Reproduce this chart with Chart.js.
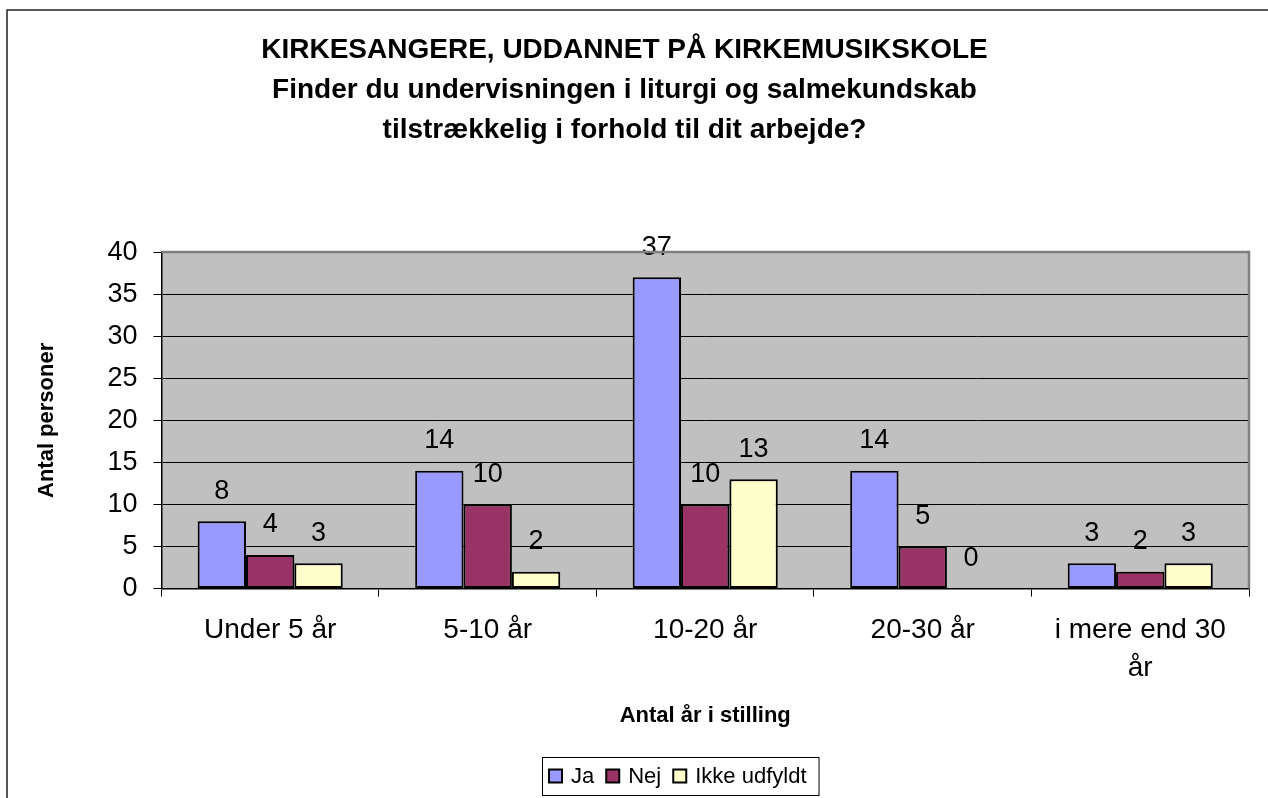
<!DOCTYPE html>
<html>
<head>
<meta charset="utf-8">
<script src="https://cdn.jsdelivr.net/npm/chart.js@4.4.1/dist/chart.umd.min.js"></script>
<style>
  html, body { margin: 0; padding: 0; background: #fff; }
  canvas { display: block; }
</style>
</head>
<body>
<canvas id="chart" width="1268" height="798"></canvas>
<script>
const titleLines = [
  'KIRKESANGERE, UDDANNET PÅ KIRKEMUSIKSKOLE',
  'Finder du undervisningen i liturgi og salmekundskab',
  'tilstrækkelig i forhold til dit arbejde?'
];
const categories = ['Under 5 år', '5-10 år', '10-20 år', '20-30 år', ['i mere end 30', 'år']];
const seriesNames = ['Ja', 'Nej', 'Ikke udfyldt'];
const jaValues = [8, 14, 37, 14, 3];
const nejValues = [4, 10, 10, 5, 2];
const ikkeValues = [3, 2, 13, 0, 3];
const seriesColors = ['#9999FF', '#993366', '#FFFFCC'];
const yMin = 0;
const yMax = 40;
const yStep = 5;
const xTitle = 'Antal år i stilling';
const yTitle = 'Antal personer';

const FONT = '"Liberation Sans", Arial, sans-serif';
Chart.defaults.font.family = FONT;
Chart.defaults.color = '#000';

// gray plot area, outer frame, value labels and a boxed legend
const excelLook = {
  id: 'excelLook',
  beforeDraw(chart) {
    const { ctx, chartArea: a } = chart;
    ctx.save();
    ctx.fillStyle = '#C0C0C0';
    ctx.fillRect(a.left, a.top, a.right - a.left, a.bottom - a.top);
    ctx.strokeStyle = '#222';
    ctx.lineWidth = 1.5;
    ctx.beginPath();
    ctx.moveTo(7, chart.height);
    ctx.lineTo(7, 10);
    ctx.lineTo(chart.width, 10);
    ctx.stroke();
    ctx.restore();
  },
  afterDatasetsDraw(chart) {
    const ctx = chart.ctx;
    ctx.save();
    ctx.font = '27px ' + FONT;
    ctx.fillStyle = '#000';
    ctx.textAlign = 'center';
    ctx.textBaseline = 'middle';
    chart.data.datasets.forEach((ds, i) => {
      chart.getDatasetMeta(i).data.forEach((bar, j) => {
        ctx.fillText(String(ds.data[j]), bar.x, bar.y - 30);
      });
    });
    ctx.restore();
  },
  afterDraw(chart) {
    const { ctx, chartArea: a } = chart;
    ctx.save();
    // plot area border (top and right)
    ctx.strokeStyle = '#808080';
    ctx.lineWidth = 2.5;
    ctx.beginPath();
    ctx.moveTo(a.left, a.top);
    ctx.lineTo(a.right, a.top);
    ctx.lineTo(a.right, a.bottom);
    ctx.stroke();

    // legend
    ctx.font = '22px ' + FONT;
    ctx.textBaseline = 'middle';
    ctx.textAlign = 'left';
    const box = 13, gapText = 9, gapItem = 12, padL = 7, padR = 12;
    let w = padL + padR;
    seriesNames.forEach((n, i) => {
      w += box + gapText + ctx.measureText(n).width;
      if (i < seriesNames.length - 1) w += gapItem;
    });
    const left = 542, top = 757, h = 38, cy = top + h / 2;
    ctx.fillStyle = '#fff';
    ctx.fillRect(left, top, w, h);
    ctx.strokeStyle = '#000';
    ctx.lineWidth = 1;
    ctx.strokeRect(left + 0.5, top + 0.5, w, h);
    let x = left + padL;
    seriesNames.forEach((n, i) => {
      ctx.fillStyle = seriesColors[i];
      ctx.fillRect(x, cy - box / 2, box, box);
      ctx.lineWidth = 2;
      ctx.strokeStyle = '#000';
      ctx.strokeRect(x, cy - box / 2, box, box);
      x += box + gapText;
      ctx.fillStyle = '#000';
      ctx.fillText(n, x, cy + 1);
      x += ctx.measureText(n).width + gapItem;
    });
    ctx.restore();
  }
};

const datasets = [jaValues, nejValues, ikkeValues].map((vals, i) => ({
  label: seriesNames[i],
  data: vals,
  backgroundColor: seriesColors[i],
  borderColor: '#000',
  borderWidth: 2,
  borderSkipped: false,
  barPercentage: 1,
  categoryPercentage: 0.667
}));

new Chart(document.getElementById('chart'), {
  type: 'bar',
  data: { labels: categories, datasets },
  options: {
    responsive: false,
    animation: false,
    devicePixelRatio: 1,
    layout: { padding: { top: 0, right: 19, bottom: 69, left: 0 } },
    plugins: {
      legend: { display: false },
      tooltip: { enabled: false },
      title: {
        display: true,
        text: titleLines,
        color: '#000',
        font: { size: 28, weight: 'bold', lineHeight: 1.43 },
        padding: { top: 30, bottom: 102 }
      }
    },
    scales: {
      x: {
        ticks: { padding: 15, autoSkip: false, maxRotation: 0, font: { size: 28, lineHeight: 1.357 } },
        grid: { offset: true, drawOnChartArea: false, tickLength: 8, tickColor: '#000', tickWidth: 1 },
        border: { color: '#000', width: 1.5 },
        title: {
          display: true, text: xTitle,
          font: { size: 22, weight: 'bold' },
          padding: { top: 0, bottom: 0 }
        }
      },
      y: {
        min: yMin,
        max: yMax,
        ticks: { stepSize: yStep, padding: 16, font: { size: 27 } },
        grid: { color: '#000', lineWidth: 1, tickLength: 8, tickColor: '#000' },
        border: { color: '#000', width: 1.5 },
        title: {
          display: true, text: yTitle,
          font: { size: 22, weight: 'bold' },
          padding: { top: 34, bottom: 31 }
        }
      }
    }
  },
  plugins: [excelLook]
});
</script>
</body>
</html>
